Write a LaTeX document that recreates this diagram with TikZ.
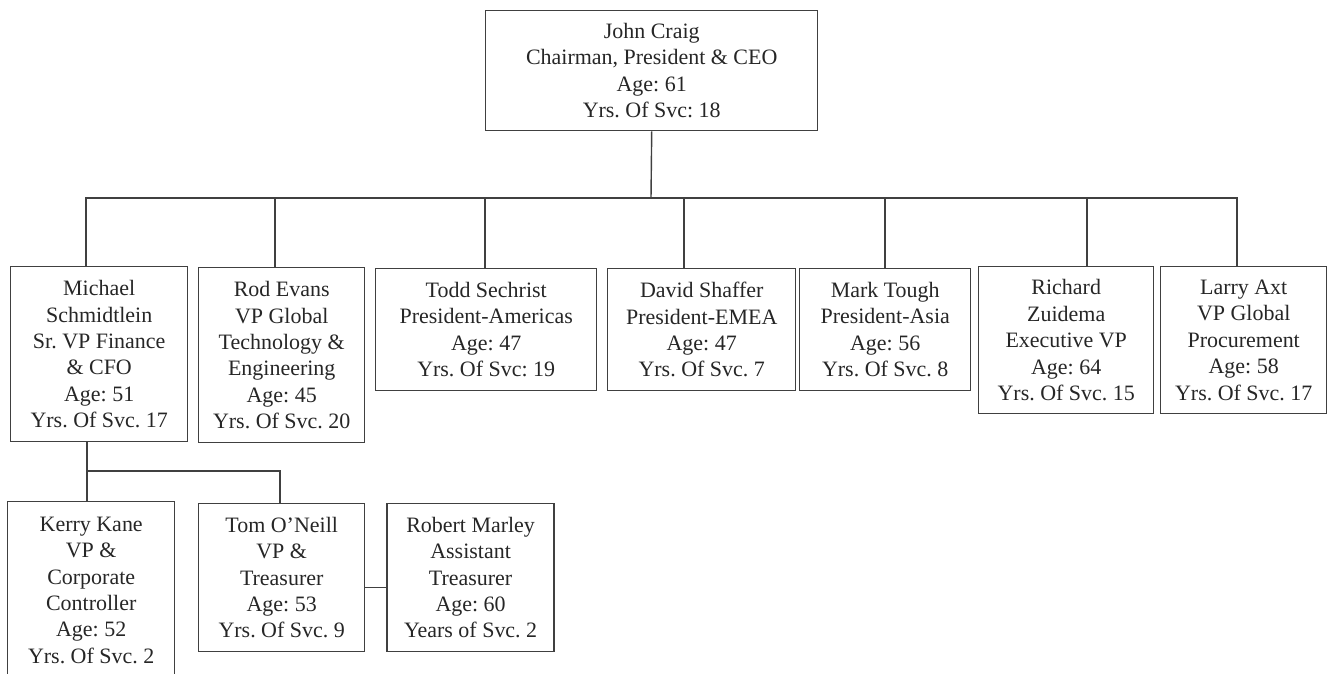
\documentclass[tikz,border=0pt]{standalone}
\usepackage{fontspec}
\setmainfont{Liberation Serif}
\usetikzlibrary{positioning}
\frenchspacing

\tikzset{
  person/.style={draw=black!75, line width=0.8pt, align=center, anchor=north west,
    inner sep=2pt, text=black!85, font=\fontsize{12.5}{15}\selectfont},
  boxsize/.style 2 args={minimum width=#1*0.2mm, minimum height=#2*0.2mm},
  link/.style={draw=black!75, line width=0.8pt}
}

\begin{document}
\begin{tikzpicture}[x=0.2mm, y=-0.2mm]
    \clip (0,0) rectangle (1328,673);
    \node[person, boxsize={332}{120}] (ceo) at (485,10)
      {John Craig\\Chairman, President \& CEO\\Age: 61\\Yrs. Of Svc: 18};

    \node[person, boxsize={177}{175}] (cfo) at (10,266)
      {Michael\\Schmidtlein\\Sr. VP Finance\\\& CFO\\Age: 51\\Yrs. Of Svc. 17};
    \node[person, boxsize={166}{175}] (cto) at (198,267)
      {Rod Evans\\VP Global\\Technology \&\\Engineering\\Age: 45\\Yrs. Of Svc. 20};
    \node[person, boxsize={221}{122}] (americas) at (375,268)
      {Todd Sechrist\\President-Americas\\Age: 47\\Yrs. Of Svc: 19};
    \node[person, boxsize={188}{122}] (emea) at (607,268)
      {David Shaffer\\President-EMEA\\Age: 47\\Yrs. Of Svc. 7};
    \node[person, boxsize={171}{122}] (asia) at (799,268)
      {Mark Tough\\President-Asia\\Age: 56\\Yrs. Of Svc. 8};
    \node[person, boxsize={175}{147}] (evp) at (978,266)
      {Richard\\Zuidema\\Executive VP\\Age: 64\\Yrs. Of Svc. 15};
    \node[person, boxsize={166}{147}] (procurement) at (1160,266)
      {Larry Axt\\VP Global\\Procurement\\Age: 58\\Yrs. Of Svc. 17};

    % finance
    \node[person, boxsize={167}{177}] (controller) at (7,501)
      {Kerry Kane\\VP \&\\Corporate\\Controller\\Age: 52\\Yrs. Of Svc. 2};
    \node[person, boxsize={166}{148}] (treasurer) at (198,503)
      {Tom O’Neill\\VP \&\\Treasurer\\Age: 53\\Yrs. Of Svc. 9};
    \node[person, boxsize={167}{148}, right=4.2mm of treasurer] (asstreasurer)
      {Robert Marley\\Assistant\\Treasurer\\Age: 60\\Years of Svc. 2};

    \coordinate (bus) at (651,198);
    \foreach \n/\x in {cfo/86, cto/275, americas/485, emea/684, asia/885, evp/1087, procurement/1237}
      \coordinate (top-\n) at (\x,198);
    \draw[link] (ceo.south) -- (bus);
    \draw[link] (top-cfo |- cfo.north) -- (top-cfo) -- (top-procurement)
      -- (top-procurement |- procurement.north);
    \foreach \n in {cto, americas, emea, asia, evp}
      \draw[link] (top-\n) -- (top-\n |- \n.north);

    \coordinate (split) at (87,471);
    \coordinate (splitR) at (280,471);
    \draw[link] (split |- cfo.south) -- (split |- controller.north);
    \draw[link] (split) -- (splitR) -- (splitR |- treasurer.north);
    \draw[link] ([yshift=-2mm]treasurer.east) -- ([yshift=-2mm]asstreasurer.west);
\end{tikzpicture}
\end{document}
